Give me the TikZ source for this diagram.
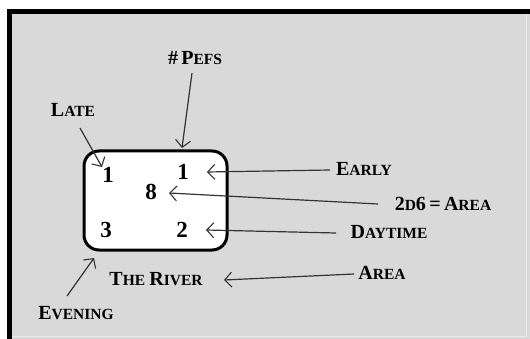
\documentclass[tikz,border=0pt]{standalone}
\usepackage{fontspec}
\setmainfont{Liberation Serif}
\usetikzlibrary{arrows.meta}
\newcommand\mysc[2]{{\fontsize{20}{20}\selectfont #1}{\fontsize{15.5}{15.5}\selectfont #2}}
\tikzset{
  lbl/.style={font=\bfseries, text=black, inner sep=0pt},
  num/.style={font=\bfseries\fontsize{23}{23}\selectfont, inner sep=0pt},
  arr/.style={draw=black!80, line width=1.2pt, -{Straight Barb[length=7pt,width=15pt,line width=1.1pt]}},
}
\begin{document}
\begin{tikzpicture}[x=1pt,y=-1pt]
\useasboundingbox (0,0) rectangle (530,339);
\fill[white] (0,0) rectangle (530,339);
\fill[black!15] (7,9) rectangle (530,339);
\fill[black] (7,9) rectangle (530,14);
\fill[black] (7,9) rectangle (12,339);
\draw[black!8, line width=1pt] (12,336.5) -- (526.5,336.5) -- (526.5,14);
% main box
\draw[fill=white, line width=3pt, rounded corners=15pt] (84,151) rectangle (227,250);
% numbers
\node[num] (n1) at (108,175) {1};
\node[num] (n2) at (183,172) {1};
\node[num] (n3) at (151,192) {8};
\node[num] (n4) at (106,230) {3};
\node[num] (n5) at (182,230) {2};
% labels
\node[lbl] (pefs) at (195,58) {\mysc{\#\,P}{EF}{\fontsize{15.5}{15.5}\selectfont S}};
\node[lbl] (late) at (73,110) {\mysc{L}{ATE}};
\node[lbl] (early) at (364,169) {\mysc{E}{ARLY}};
\node[lbl] (area2) at (443,204) {{\fontsize{20}{20}\selectfont 2}\mysc{}{D}{\fontsize{20}{20}\selectfont 6\,=\,A}{\fontsize{15.5}{15.5}\selectfont REA}};
\node[lbl] (day) at (389,232) {\mysc{D}{AYTIME}};
\node[lbl] (area) at (382,273) {\mysc{A}{REA}};
\node[lbl] (river) at (156,279) {\mysc{T}{HE}\, \mysc{R}{IVER}};
\node[lbl] (eve) at (76,313) {\mysc{E}{VENING}};
% tip coordinates
\coordinate (tpefs) at (182,148);
\coordinate (tlate) at (102,167);
\coordinate (tearly) at (207,172);
\coordinate (t8) at (169,193);
\coordinate (tday) at (206,230);
\coordinate (triver) at (224,280);
\coordinate (teve) at (94,258);
\coordinate (spefs) at (192,73);
\coordinate (slate) at (80,128);
\coordinate (searly) at (330,170);
\coordinate (s8) at (378,204);
\coordinate (sday) at (336,233);
\coordinate (sarea) at (354,274);
\coordinate (seve) at (67,296);
% arrows
\draw[arr] (spefs) -- (tpefs);
\draw[arr] (slate) -- (tlate);
\draw[arr] (searly) -- (tearly);
\draw[arr] (s8) -- (t8);
\draw[arr] (sday) -- (tday);
\draw[arr] (sarea) -- (triver);
\draw[arr] (seve) -- (teve);
\end{tikzpicture}
\end{document}
